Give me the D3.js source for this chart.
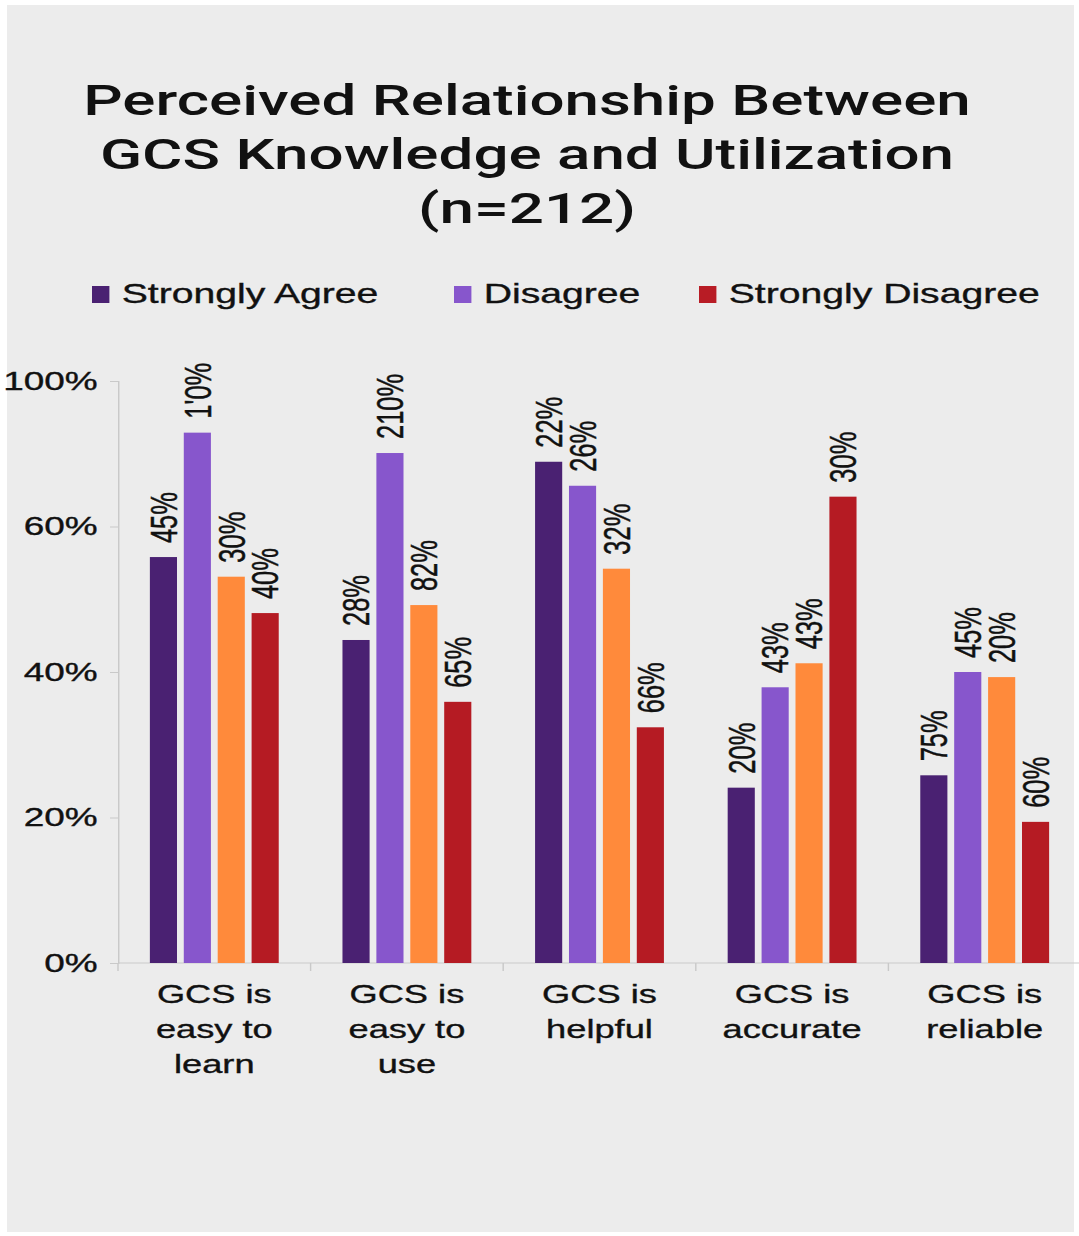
<!DOCTYPE html>
<html>
<head>
<meta charset="utf-8">
<script src="https://cdn.jsdelivr.net/npm/d3@7"></script>
<style>
  html, body { margin: 0; padding: 0; background: #ffffff; }
  svg { display: block; }
  text { font-family: "Liberation Sans", Arial, Helvetica, sans-serif; fill: #111; }
  .thick { stroke: #111; stroke-width: 0.35px; }
</style>
</head>
<body>
<svg id="chart" width="1079" height="1236"></svg>
<script>
// ---------------- data ----------------
const titleLines = ["Perceived Relationship Between", "GCS Knowledge and Utilization", "(n=212)"];
const categories = ["GCS is easy to learn", "GCS is easy to use", "GCS is helpful", "GCS is accurate", "GCS is reliable"];
const categoryLines = [["GCS is", "easy to", "learn"], ["GCS is", "easy to", "use"], ["GCS is", "helpful"], ["GCS is", "accurate"], ["GCS is", "reliable"]];
const seriesKeys = ["Strongly Agree", "Disagree", "Agree", "Strongly Disagree"];
const seriesColors = ["#4a2172", "#8756cc", "#ff8a3b", "#b51b23"];
const legendKeys = ["Strongly Agree", "Disagree", "Strongly Disagree"];
const legendColors = ["#4a2172", "#8756cc", "#b81c25"];

// bar heights (axis units)
const stronglyAgreeValues   = [55.8, 44.4, 68.9, 24.1, 25.8];
const disagreeValues        = [72.9, 70.1, 65.6, 37.9, 40.0];
const agreeValues           = [53.1, 49.2, 54.2, 41.2, 39.3];
const stronglyDisagreeValues= [48.1, 35.9, 32.4, 64.1, 19.4];

// printed labels above bars
const stronglyAgreeLabels    = ["45%", "28%", "22%", "20%", "75%"];
const disagreeLabels         = ["1'0%", "210%", "26%", "43%", "45%"];
const agreeLabels            = ["30%", "82%", "32%", "43%", "20%"];
const stronglyDisagreeLabels = ["40%", "65%", "66%", "30%", "60%"];

const yTickValues = [0, 20, 40, 60, 80];
const yTickLabels = ["0%", "20%", "40%", "60%", "100%"];

// ---------------- layout ----------------
const S = 1.45; // horizontal stretch of the original picture
const svg = d3.select("#chart");
svg.append("rect").attr("x", 7).attr("y", 5).attr("width", 1067).attr("height", 1227).attr("fill", "#ececec");

const root = svg.append("g").attr("transform", `scale(${S},1)`);

const valuesBySeries = [stronglyAgreeValues, disagreeValues, agreeValues, stronglyDisagreeValues];
const labelsBySeries = [stronglyAgreeLabels, disagreeLabels, agreeLabels, stronglyDisagreeLabels];

const x0 = d3.scaleBand().domain(categories).range([118 / S, 1081 / S]).paddingInner(0).paddingOuter(0);
const x1 = d3.scaleBand().domain(seriesKeys).range([0, x0.bandwidth()]).paddingInner(0.2).paddingOuter(0.94);
const y = d3.scaleLinear().domain([0, 80]).range([963, 381]);
const color = d3.scaleOrdinal().domain(seriesKeys).range(seriesColors);

// title
const title = root.append("g");
const titleBaselines = [115, 169, 223];
titleLines.forEach((t, i) => {
  title.append("text")
    .attr("x", 527 / S).attr("y", titleBaselines[i])
    .attr("text-anchor", "middle")
    .style("font-family", "Roboto, 'Liberation Sans', Arial, sans-serif")
    .style("font-weight", 500)
    .style("font-size", "42.7px")
    .text(t);
});

// legend
const legendX = [92 / S, 454 / S, 699 / S];
const legend = root.append("g");
legendKeys.forEach((k, i) => {
  const g = legend.append("g").attr("transform", `translate(${legendX[i]},0)`);
  g.append("rect").attr("x", 0).attr("y", 286).attr("width", 12).attr("height", 17).attr("fill", legendColors[i]);
  g.append("text").attr("class", "thick").attr("x", 20.5).attr("y", 303).style("font-size", "27px").text(k);
});

// y axis
const yAxis = root.append("g")
  .attr("transform", `translate(${x0.range()[0]},0)`)
  .call(d3.axisLeft(y).tickValues(yTickValues).tickFormat((d, i) => yTickLabels[i]).tickSize(8 / S).tickPadding(8.5));
yAxis.select(".domain").attr("stroke", "#c9c9c9").attr("stroke-width", 1);
yAxis.selectAll(".tick line").attr("stroke", "#c9c9c9");
yAxis.selectAll(".tick text").attr("class", "thick").style("font-size", "25.5px").style("font-family", "'Liberation Sans', Arial, sans-serif").attr("fill", "#111");

// x axis (band boundary ticks)
const xAxis = root.append("g");
xAxis.append("line")
  .attr("x1", x0.range()[0]).attr("x2", x0.range()[1])
  .attr("y1", y(0)).attr("y2", y(0))
  .attr("stroke", "#c9c9c9");
xAxis.selectAll("line.tk").data(categories).enter().append("line").attr("class", "tk")
  .attr("x1", d => x0(d)).attr("x2", d => x0(d))
  .attr("y1", y(0)).attr("y2", y(0) + 8)
  .attr("stroke", "#c9c9c9");

// category labels
const lineBaselines = [1003, 1038, 1073];
categories.forEach((c, ci) => {
  const t = xAxis.append("text")
    .attr("class", "thick")
    .attr("text-anchor", "middle")
    .style("font-size", "25px");
  categoryLines[ci].forEach((ln, li) => {
    t.append("tspan").attr("x", x0(c) + x0.bandwidth() / 2).attr("y", lineBaselines[li]).text(ln);
  });
});

// bars
const barData = [];
categories.forEach((c, ci) => {
  seriesKeys.forEach((k, si) => {
    barData.push({ cat: c, key: k, value: valuesBySeries[si][ci], label: labelsBySeries[si][ci] });
  });
});

const bars = root.append("g");
bars.selectAll("rect").data(barData).enter().append("rect")
  .attr("x", d => x0(d.cat) + x1(d.key))
  .attr("y", d => y(d.value))
  .attr("width", x1.bandwidth())
  .attr("height", d => y(0) - y(d.value))
  .attr("fill", d => color(d.key));

bars.selectAll("text").data(barData).enter().append("text")
  .attr("class", "thick")
  .attr("transform", d => `translate(${x0(d.cat) + x1(d.key) + x1.bandwidth() / 2},${y(d.value) - 14}) rotate(-90)`)
  .attr("text-anchor", "start")
  .attr("dy", "0.36em")
  .style("font-size", "25.5px")
  .text(d => d.label);
</script>
</body>
</html>
